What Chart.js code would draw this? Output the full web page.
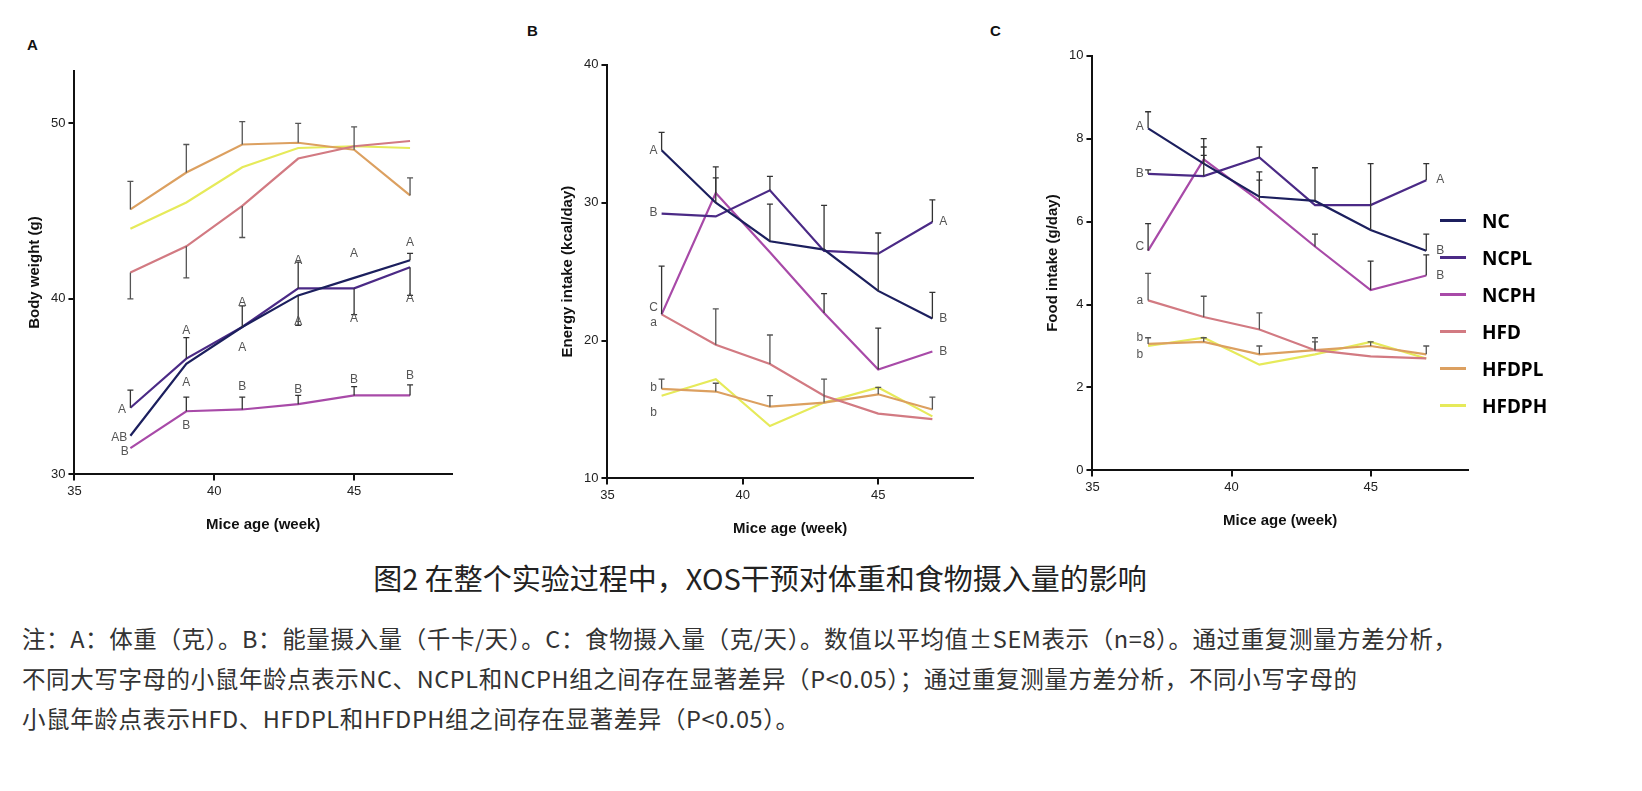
<!DOCTYPE html>
<html><head><meta charset="utf-8">
<script src="https://cdn.jsdelivr.net/npm/chart.js@4.4.0/dist/chart.umd.min.js"></script>
<style>
body{margin:0;background:#fff;width:1642px;height:791px;position:relative;font-family:"Noto Sans CJK SC","Noto Sans",sans-serif;overflow:hidden}
.pan{position:absolute}
.lbl{position:absolute;font:bold 15px Arial,"Liberation Sans";color:#111}
#legend{position:absolute;left:1440px;top:202px;font:bold 19px "Noto Sans",Arial}
#legend div{height:37px;display:flex;align-items:center}
#legend span{display:inline-block;width:26px;height:3px;margin-right:16px}
#title{position:absolute;top:556px;left:0;width:1520px;text-align:center;font-size:29px;color:#222}
#note{position:absolute;top:618px;left:22px;width:1620px;font-size:23.5px;letter-spacing:0.6px;line-height:40px;color:#333;white-space:nowrap}
</style></head><body>
<div class="lbl" style="left:27px;top:36px">A</div>
<div class="lbl" style="left:527px;top:22px">B</div>
<div class="lbl" style="left:990px;top:22px">C</div>
<canvas id="cA" class="pan" style="left:22px;top:60px"></canvas>
<canvas id="cB" class="pan" style="left:555px;top:54px"></canvas>
<canvas id="cC" class="pan" style="left:1040px;top:45px"></canvas>
<div id="legend"></div>
<div id="title">图2 在整个实验过程中，XOS干预对体重和食物摄入量的影响</div>
<div id="note">注：A：体重（克）。B：能量摄入量（千卡/天）。C：食物摄入量（克/天）。数值以平均值±SEM表示（n=8）。通过重复测量方差分析，<br>不同大写字母的小鼠年龄点表示NC、NCPL和NCPH组之间存在显著差异（P&lt;0.05）；通过重复测量方差分析，不同小写字母的<br>小鼠年龄点表示HFD、HFDPL和HFDPH组之间存在显著差异（P&lt;0.05）。</div>
<script>
const weeks = [37, 39, 41, 43, 45, 47];
const groups = ['NC', 'NCPL', 'NCPH', 'HFD', 'HFDPL', 'HFDPH'];
const colors = ['#1c1f5e', '#4b2a86', '#a84aa8', '#d27a82', '#dca060', '#e6ea5a'];

// Body weight (g)
const weightA = [
  [32.2, 36.3, 38.4, 40.2, 41.2, 42.2],
  [33.8, 36.6, 38.4, 40.6, 40.6, 41.8],
  [31.5, 33.6, 33.7, 34.0, 34.5, 34.5],
  [41.5, 43.0, 45.3, 48.0, 48.7, 49.0],
  [45.1, 47.2, 48.8, 48.9, 48.5, 45.9],
  [44.0, 45.5, 47.5, 48.6, 48.7, 48.6]
];
const errA = [
  [0, 0, 0, -1.7, 0, 0.4],
  [1.0, 1.2, 1.2, 1.5, -1.5, -1.6],
  [0, 0.8, 0.7, 0.5, 0.5, 0.6],
  [-1.5, -1.8, -1.8, 0, 0, 0],
  [1.6, 1.6, 1.3, 1.1, 1.3, 1.0],
  [0, 0, 0, 0, 0, 0]
];
// Energy intake (kcal/day)
const energyB = [
  [33.8, 30.0, 27.2, 26.6, 23.6, 21.6],
  [29.2, 29.0, 30.9, 26.5, 26.3, 28.6],
  [21.9, 30.7, 26.4, 22.0, 17.9, 19.2],
  [21.9, 19.7, 18.3, 16.0, 14.7, 14.3],
  [16.5, 16.3, 15.2, 15.5, 16.1, 15.0],
  [16.0, 17.2, 13.8, 15.5, 16.6, 14.5]
];
const errB = [
  [1.3, 1.8, 2.7, 3.2, 4.2, 1.9],
  [0, 0, 1.0, 0, 0, 1.6],
  [3.5, 1.9, 0, 1.4, 3.0, 0],
  [0, 2.6, 2.1, 0, 0, 0],
  [0.7, 0.6, 0.8, 1.7, 0.5, 0.9],
  [0, 0, 0, 0, 0, 0]
];
// Food intake (g/day)
const foodC = [
  [8.25, 7.4, 6.6, 6.5, 5.8, 5.3],
  [7.15, 7.1, 7.55, 6.4, 6.4, 7.0],
  [5.3, 7.5, 6.5, 5.4, 4.35, 4.7],
  [4.1, 3.7, 3.4, 2.9, 2.75, 2.7],
  [3.05, 3.1, 2.8, 2.9, 3.0, 2.8],
  [3.0, 3.2, 2.55, 2.8, 3.1, 2.7]
];
const errC = [
  [0.4, 0.4, 0.6, 0.8, 1.6, 0.4],
  [0.1, 0.5, 0.25, 0, 0, 0.4],
  [0.65, 0.5, 0.5, 0.3, 0.7, 0.5],
  [0.65, 0.5, 0.4, 0.3, 0, 0],
  [0.15, 0.1, 0.2, 0.2, 0.1, 0.2],
  [0, 0, 0, 0, 0, 0]
];
// significance letters: [week, value, text]
const lettersA = [[36.7,33.7,'A'],[36.6,32.1,'AB'],[36.8,31.3,'B'],[39,38.2,'A'],[39,35.2,'A'],[39,32.8,'B'],[41,39.8,'A'],[41,37.2,'A'],[41,35.0,'B'],[43,42.2,'A'],[43,38.7,'A'],[43,34.8,'B'],[45,42.6,'A'],[45,38.9,'A'],[45,35.4,'B'],[47,43.2,'A'],[47,40.0,'A'],[47,35.6,'B']];
const lettersB = [[36.7,33.8,'A'],[36.7,29.3,'B'],[36.7,22.4,'C'],[36.7,21.3,'a'],[36.7,16.6,'b'],[36.7,14.8,'b'],[47.4,28.6,'A'],[47.4,21.6,'B'],[47.4,19.2,'B']];
const lettersC = [[36.7,8.3,'A'],[36.7,7.15,'B'],[36.7,5.4,'C'],[36.7,4.1,'a'],[36.7,3.2,'b'],[36.7,2.8,'b'],[47.5,7.0,'A'],[47.5,5.3,'B'],[47.5,4.7,'B']];

const extras = {
  id: 'extras',
  afterDatasetsDraw(chart, args, opts) {
    const ctx = chart.ctx, xs = chart.scales.x, ys = chart.scales.y;
    ctx.save();
    ctx.lineWidth = 1.3;
    opts.err.forEach((row, i) => {
      ctx.strokeStyle = i < 3 ? '#333' : '#555';
      row.forEach((e, j) => {
        if (!e) return;
        const x = xs.getPixelForValue(weeks[j]);
        const y0 = ys.getPixelForValue(opts.vals[i][j]);
        const y1 = ys.getPixelForValue(opts.vals[i][j] + e);
        ctx.beginPath();
        ctx.moveTo(x, y0); ctx.lineTo(x, y1);
        ctx.moveTo(x - 3, y1); ctx.lineTo(x + 3, y1);
        ctx.stroke();
      });
    });
    ctx.fillStyle = '#555';
    ctx.font = '12px Arial';
    ctx.textAlign = 'center';
    ctx.textBaseline = 'middle';
    opts.letters.forEach(l => ctx.fillText(l[2], xs.getPixelForValue(l[0]), ys.getPixelForValue(l[1])));
    ctx.restore();
  }
};

function makeChart(id, w, h, vals, err, letters, ymin, ymax, step, ytitle) {
  const c = document.getElementById(id);
  c.width = w; c.height = h;
  new Chart(c, {
    type: 'line',
    data: {
      datasets: groups.map((g, i) => ({
        label: g,
        data: weeks.map((wk, j) => ({x: wk, y: vals[i][j]})),
        borderColor: colors[i],
        borderWidth: 2.2,
        pointRadius: 0,
        tension: 0
      }))
    },
    options: {
      responsive: false,
      animation: false,
      layout: {padding: {right: 10, top: 10}},
      plugins: {legend: {display: false}, tooltip: {enabled: false},
        extras: {vals: vals, err: err, letters: letters}},
      scales: {
        x: {type: 'linear', min: 35, max: 48.5,
          afterBuildTicks: s => { s.ticks = [35, 40, 45].map(v => ({value: v})); },
          border: {color: '#111', width: 2},
          grid: {drawOnChartArea: false, color: '#111', tickLength: 6, lineWidth: 2},
          ticks: {color: '#222', font: {size: 13, family: 'Arial'}},
          title: {display: true, text: 'Mice age (week)', color: '#111', font: {size: 15, weight: 'bold', family: 'Arial'}, padding: {top: 14}}},
        y: {min: ymin, max: ymax,
          afterBuildTicks: s => { const t = []; for (let v = ymin; v <= ymax + 1e-9; v += step) t.push({value: v}); s.ticks = t; },
          border: {color: '#111', width: 2},
          grid: {drawOnChartArea: false, color: '#111', tickLength: 6, lineWidth: 2},
          ticks: {color: '#222', font: {size: 13, family: 'Arial'}},
          title: {display: true, text: ytitle, color: '#111', font: {size: 15, weight: 'bold', family: 'Arial'}}}
      }
    },
    plugins: [extras]
  });
}

makeChart('cA', 440, 478, weightA, errA, lettersA, 30, 53, 10, 'Body weight (g)');
makeChart('cB', 428, 488, energyB, errB, lettersB, 10, 40, 10, 'Energy intake (kcal/day)');
makeChart('cC', 438, 489, foodC, errC, lettersC, 0, 10, 2, 'Food intake (g/day)');

const lg = document.getElementById('legend');
groups.forEach((g, i) => {
  lg.innerHTML += '<div><span style="background:' + colors[i] + '"></span>' + g + '</div>';
});
</script>
</body></html>
